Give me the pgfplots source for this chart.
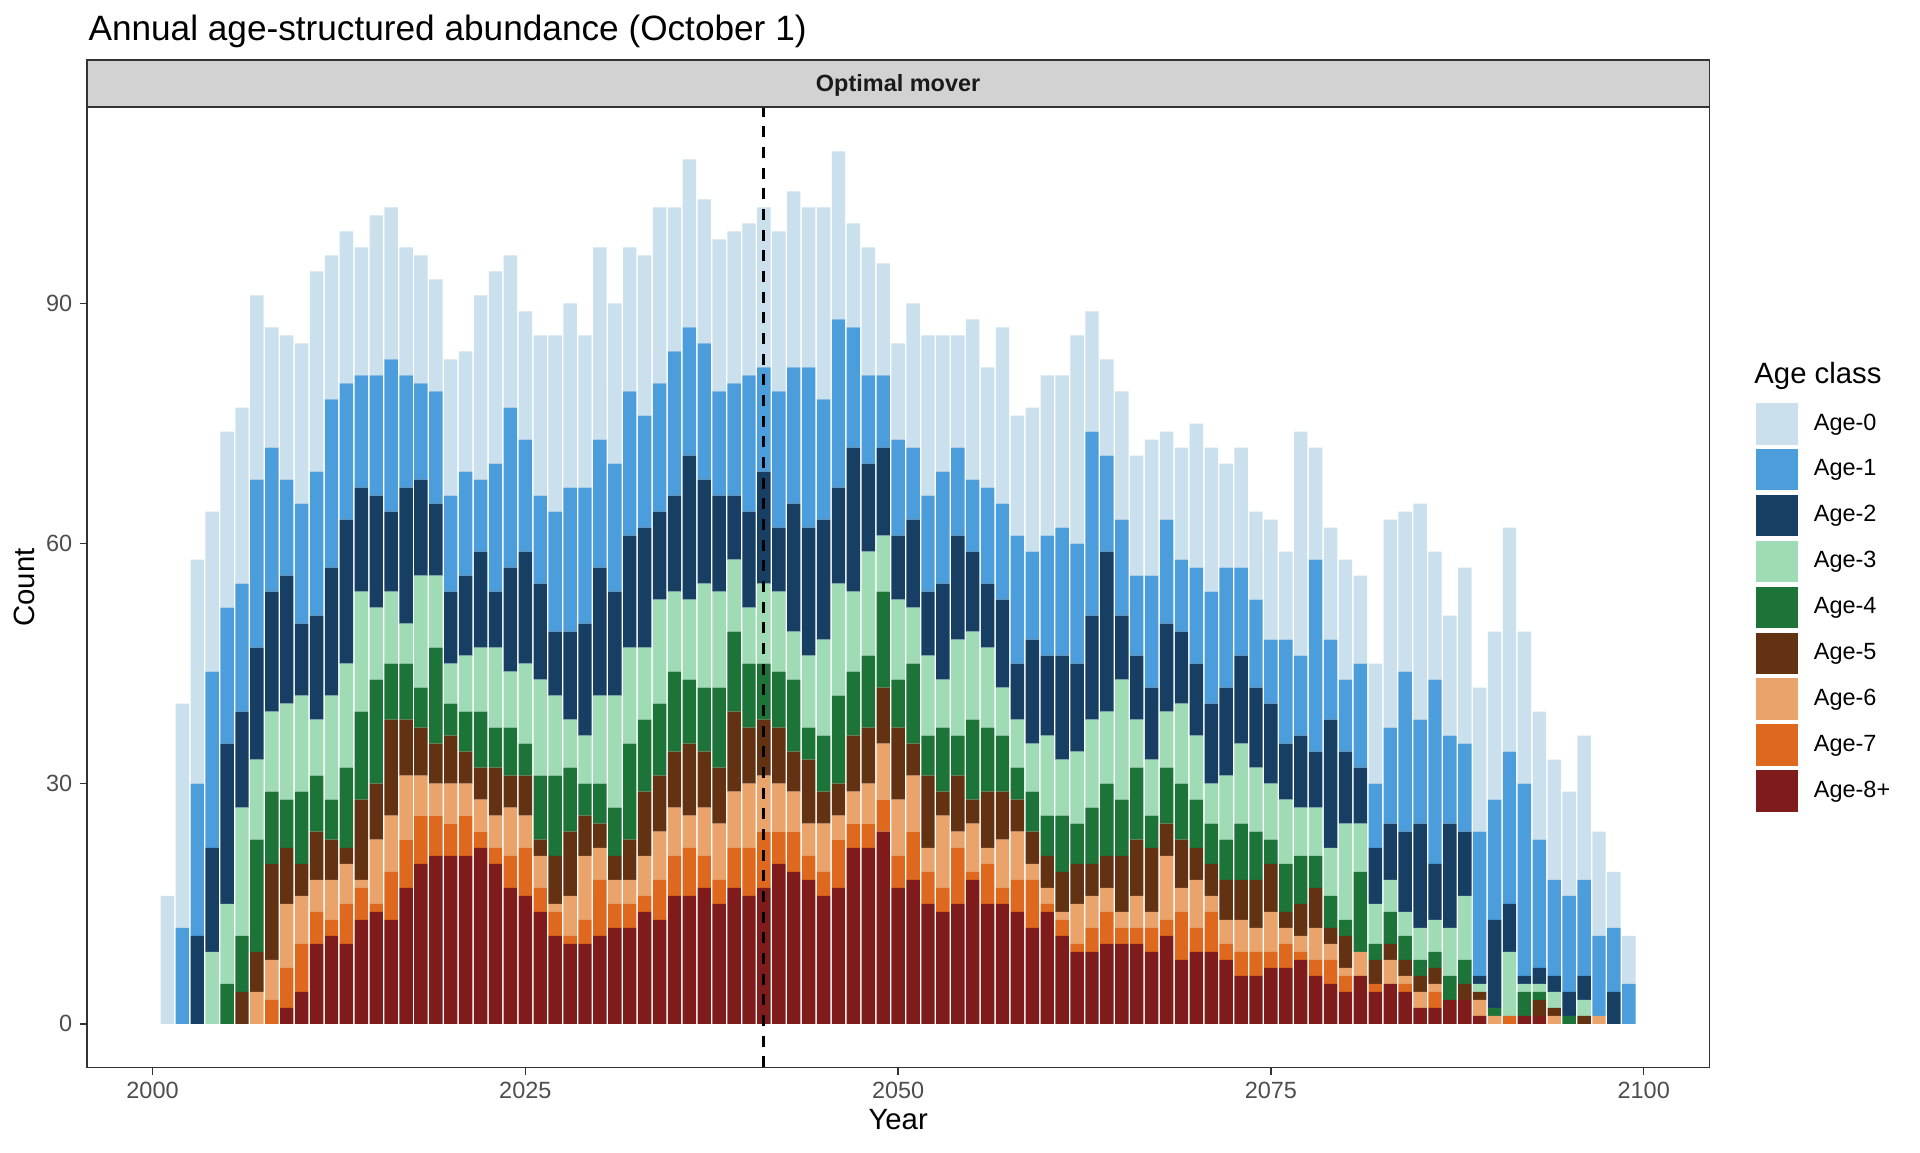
\documentclass[border=0pt]{standalone}
\usepackage{fontspec}
\setmainfont{Liberation Sans}
\usepackage{pgfplots}
\usepackage{pgfplotstable}
\pgfplotsset{compat=1.18}
\definecolor{c0}{RGB}{202,224,237}
\definecolor{c1}{RGB}{76,157,219}
\definecolor{c2}{RGB}{23,63,99}
\definecolor{c3}{RGB}{159,219,181}
\definecolor{c4}{RGB}{28,116,56}
\definecolor{c5}{RGB}{99,50,18}
\definecolor{c6}{RGB}{234,163,107}
\definecolor{c7}{RGB}{222,104,30}
\definecolor{c8}{RGB}{127,27,27}
\definecolor{grey20}{RGB}{51,51,51}
\definecolor{grey30}{RGB}{77,77,77}
\definecolor{stripgrey}{RGB}{210,210,210}
\definecolor{grey10}{RGB}{26,26,26}
\pgfplotstableread{
year a8 a7 a6 a5 a4 a3 a2 a1 a0
2001 0 0 0 0 0 0 0 0 16
2002 0 0 0 0 0 0 0 12 28
2003 0 0 0 0 0 0 11 19 28
2004 0 0 0 0 0 9 13 22 20
2005 0 0 0 0 5 10 20 17 22
2006 0 0 0 4 7 16 12 16 22
2007 0 0 4 5 14 10 14 21 23
2008 0 3 5 12 9 10 15 18 15
2009 2 5 8 7 6 12 16 12 18
2010 4 6 6 4 9 12 9 15 20
2011 10 4 4 6 7 7 13 18 25
2012 11 2 5 5 5 13 16 21 18
2013 10 5 5 2 10 13 18 17 19
2014 13 4 1 10 11 15 13 14 16
2015 14 1 8 7 13 9 14 15 20
2016 13 6 7 12 7 9 10 19 19
2017 17 6 8 7 7 5 17 14 16
2018 20 6 5 6 5 14 12 12 16
2019 21 5 4 5 12 9 9 14 14
2020 21 4 5 6 4 5 9 12 17
2021 21 5 4 4 5 7 10 13 15
2022 22 2 4 4 7 8 12 9 23
2023 20 2 4 6 5 10 7 16 24
2024 17 4 6 4 6 7 13 20 19
2025 16 6 4 5 4 10 14 14 16
2026 14 3 4 2 8 12 12 11 20
2027 11 3 1 6 10 10 8 15 22
2028 10 1 5 8 8 6 11 18 23
2029 10 3 8 5 4 6 14 17 19
2030 11 7 4 3 5 11 16 16 24
2031 12 3 3 3 6 14 13 16 20
2032 12 3 3 5 12 12 14 18 18
2033 14 2 5 8 9 9 15 14 20
2034 13 5 6 7 9 13 11 16 22
2035 16 5 6 7 10 10 12 18 18
2036 16 6 4 9 8 10 18 16 21
2037 17 4 6 7 8 13 13 17 18
2038 15 3 7 7 10 12 12 13 19
2039 17 5 7 10 10 9 8 14 19
2040 16 6 8 7 8 7 12 17 19
2041 17 7 7 7 7 10 14 13 20
2042 20 4 6 7 7 10 8 17 20
2043 19 5 5 5 9 6 16 17 22
2044 18 3 4 8 4 9 16 20 20
2045 16 3 6 4 7 12 15 15 24
2046 17 6 3 4 11 14 12 21 21
2047 22 3 4 7 8 10 18 15 13
2048 22 3 5 7 9 13 11 11 16
2049 24 4 7 7 12 7 11 9 14
2050 17 4 7 9 6 10 8 12 12
2051 18 6 7 4 10 7 11 9 18
2052 15 4 3 9 5 10 8 12 20
2053 14 3 9 3 8 6 12 14 17
2054 15 7 2 7 5 12 13 11 14
2055 18 1 6 3 10 11 10 9 20
2056 15 5 2 7 8 10 8 12 15
2057 15 2 6 6 7 6 11 12 22
2058 14 4 6 4 4 6 7 16 15
2059 12 6 2 4 5 6 13 11 18
2060 14 1 2 4 5 10 10 15 20
2061 11 2 1 5 7 7 13 16 19
2062 9 1 5 5 5 9 11 15 26
2063 9 3 4 4 7 11 13 23 15
2064 10 4 3 4 9 9 20 12 12
2065 10 2 2 7 7 15 8 12 16
2066 10 2 4 7 9 6 8 10 15
2067 9 3 2 8 4 7 9 14 17
2068 11 2 8 4 7 7 11 13 11
2069 8 6 3 6 7 10 9 9 14
2070 9 3 6 4 6 8 9 12 18
2071 9 5 2 4 5 5 10 14 18
2072 8 2 3 5 5 8 11 15 13
2073 6 3 4 5 7 10 11 11 15
2074 6 3 3 6 6 8 10 11 11
2075 7 2 5 6 3 7 10 8 15
2076 7 3 2 2 6 8 7 13 11
2077 8 1 2 4 6 6 9 10 28
2078 6 2 4 5 4 6 7 24 14
2079 5 3 2 2 4 6 16 10 14
2080 4 2 1 4 2 12 9 9 15
2081 6 0 3 0 10 6 7 13 11
2082 4 1 0 3 2 5 7 8 15
2083 5 0 3 2 4 4 7 12 26
2084 4 1 1 2 3 3 10 20 20
2085 2 0 2 2 2 4 13 13 27
2086 2 2 1 2 2 4 7 23 16
2087 3 0 0 0 3 6 13 11 15
2088 3 0 0 2 3 8 8 11 22
2089 1 0 2 1 0 1 1 18 18
2090 0 0 1 0 1 0 11 15 21
2091 0 1 0 0 0 8 6 19 28
2092 1 0 0 0 3 1 1 24 19
2093 1 0 0 2 1 1 2 16 16
2094 0 0 1 1 0 2 2 12 15
2095 0 0 0 0 1 0 3 12 13
2096 0 0 0 1 0 2 3 12 18
2097 0 0 1 0 0 0 0 10 13
2098 0 0 0 0 0 0 4 8 7
2099 0 0 0 0 0 0 0 5 6
}\data
\begin{document}
\begin{tikzpicture}
\useasboundingbox (0,0) rectangle (720pt,432pt);
\begin{axis}[
  at={(32.6pt,31.7pt)}, anchor=south west,
  width=608.4pt, height=359.9pt, scale only axis,
  xmin=1995.6, xmax=2104.4, ymin=-5.45, ymax=114.45,
  enlargelimits=false,
  ybar stacked, bar width=0.9,
  axis on top,
  axis line style={grey20, line width=0.5pt},
  xtick={2000,2025,2050,2075,2100},
  xticklabels={2000,2025,2050,2075,2100},
  ytick={0,30,60,90},
  yticklabels={0,30,60,90},
  tick align=outside, tick pos=left,
  major tick length=2.75pt,
  tick style={grey20, line width=0.5pt},
  ticklabel style={font=\fontsize{8.8}{10}\selectfont, text=grey30, inner sep=0pt},
  xticklabel style={yshift=-2.6pt},
  yticklabel style={xshift=-2.6pt},
  /pgf/number format/assume math mode=true,
  xlabel={Year}, ylabel={Count},
  xlabel style={at={(axis description cs:0.5,-0.0642)}, anchor=base, font=\fontsize{11}{13}\selectfont, inner sep=0pt},
  ylabel style={at={(axis description cs:-0.0321,0.5)}, anchor=base, font=\fontsize{11}{13}\selectfont, inner sep=0pt},
  legend image code/.code={\draw[#1,draw=none] (0pt,-7.75pt) rectangle (15.75pt,7.75pt);},
  reverse legend,
  legend cell align=left,
  legend style={at={(axis description cs:1.0288,0.6921)}, anchor=north west,
    draw=none, fill=none, inner sep=0pt, outer sep=0pt, row sep=1.7pt,
    font=\fontsize{8.8}{10}\selectfont,
    nodes={inner sep=0pt, anchor=west},
    /tikz/every odd column/.append style={column sep=5.95pt}},
]
\addplot[fill=c8, draw=none] table[x=year,y=a8]{\data}; \addlegendentry{Age-8+}
\addplot[fill=c7, draw=none] table[x=year,y=a7]{\data}; \addlegendentry{Age-7}
\addplot[fill=c6, draw=none] table[x=year,y=a6]{\data}; \addlegendentry{Age-6}
\addplot[fill=c5, draw=none] table[x=year,y=a5]{\data}; \addlegendentry{Age-5}
\addplot[fill=c4, draw=none] table[x=year,y=a4]{\data}; \addlegendentry{Age-4}
\addplot[fill=c3, draw=none] table[x=year,y=a3]{\data}; \addlegendentry{Age-3}
\addplot[fill=c2, draw=none] table[x=year,y=a2]{\data}; \addlegendentry{Age-2}
\addplot[fill=c1, draw=none] table[x=year,y=a1]{\data}; \addlegendentry{Age-1}
\addplot[fill=c0, draw=none] table[x=year,y=a0]{\data}; \addlegendentry{Age-0}
\end{axis}
\begin{axis}[
  at={(32.6pt,31.7pt)}, anchor=south west,
  width=608.4pt, height=359.9pt, scale only axis,
  xmin=1995.6, xmax=2104.4, ymin=-5.45, ymax=114.45,
  enlargelimits=false, hide axis,
]
\addplot[black, line width=1.1pt, dash pattern=on 4.2pt off 3.55pt] coordinates {(2041,-5.45) (2041,114.45)};
\end{axis}
\draw[grey20, line width=0.5pt, fill=stripgrey] (32.6pt,392.1pt) rectangle (641pt,409.5pt);
\node[font=\bfseries\fontsize{8.8}{10}\selectfont, text=grey10, anchor=base, inner sep=0pt] at (336.8pt,397.6pt) {Optimal mover};
\node[anchor=base west, font=\fontsize{13.2}{15}\selectfont, inner sep=0pt] at (33pt,416.8pt) {Annual age-structured abundance (October 1)};
\node[anchor=base west, font=\fontsize{11}{13}\selectfont, inner sep=0pt] at (657.7pt,288.3pt) {Age class};
\end{tikzpicture}
\end{document}
